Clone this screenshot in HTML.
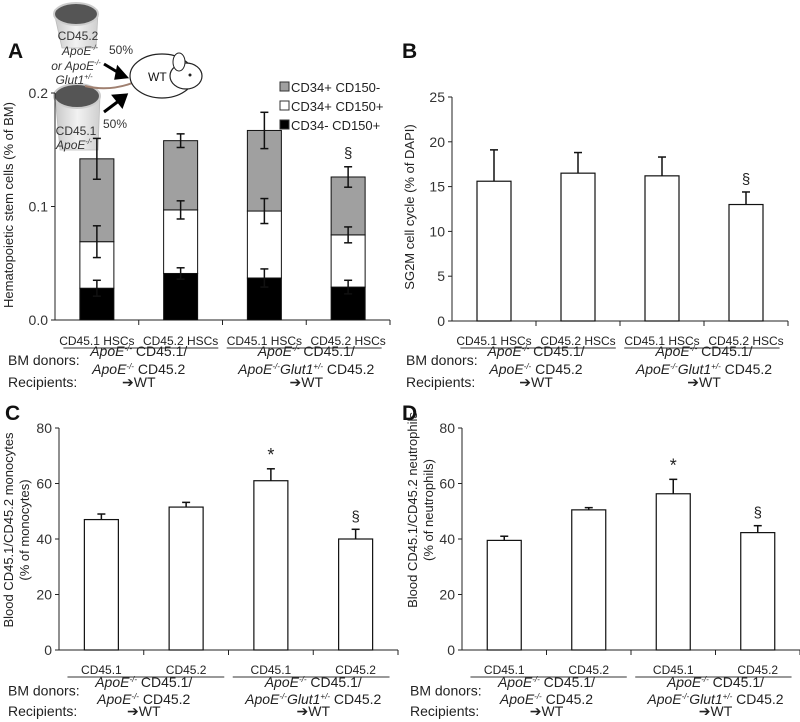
<!DOCTYPE html>
<html><head><meta charset="utf-8"><style>
html,body{margin:0;padding:0;background:#fff;}
svg{display:block;font-family:"Liberation Sans",Arial,sans-serif;}
</style></head><body>
<svg id="fig" width="800" height="722" viewBox="0 0 800 722" xmlns="http://www.w3.org/2000/svg">
<defs>
<linearGradient id="boneg" x1="0" x2="1"><stop offset="0" stop-color="#c8c8c8"/><stop offset="0.5" stop-color="#f2f2f2"/><stop offset="1" stop-color="#cfcfcf"/></linearGradient>
</defs>
<g id="illus">
  <path d="M54,12 L98,12 L96,48 L62,48 Z" fill="url(#boneg)" stroke="#bbb" stroke-width="0.8"/>
  <ellipse cx="76" cy="14" rx="22" ry="11" fill="#555" stroke="#ccc" stroke-width="2"/>
  <path d="M55,95 L100,95 L98,150 L60,150 Z" fill="url(#boneg)" stroke="#bbb" stroke-width="0.8"/>
  <ellipse cx="77" cy="96" rx="23" ry="12" fill="#555" stroke="#ccc" stroke-width="2"/>
  <path d="M85,86 C110,92 130,84 135,82" fill="none" stroke="#a08070" stroke-width="2"/>
  <ellipse cx="162" cy="76" rx="32" ry="22" fill="#fff" stroke="#222" stroke-width="1.2"/>
  <ellipse cx="186" cy="76" rx="16" ry="13" fill="#fff" stroke="#222" stroke-width="1.2"/>
  <ellipse cx="179" cy="62" rx="6" ry="9" fill="#fff" stroke="#222" stroke-width="1"/>
  <circle cx="190" cy="75" r="1.5" fill="#222"/>
  <text x="148" y="81" font-size="12" fill="#111">WT</text>
  <path d="M104,64 L124,76 M118,68 L126,77 L116,78 Z" stroke="#000" stroke-width="3" fill="#000"/>
  <path d="M104,112 L124,97 M114,96 L126,95 L122,106 Z" stroke="#000" stroke-width="3" fill="#000"/>
  <text x="78" y="40" font-size="12" text-anchor="middle" fill="#333">CD45.2</text>
  <text x="80" y="55" font-size="12" text-anchor="middle" font-style="italic" fill="#333">ApoE<tspan font-size="7" dy="-5">-/-</tspan></text>
  <text x="121" y="54" font-size="12" text-anchor="middle" fill="#333">50%</text>
  <text x="76" y="70" font-size="12" text-anchor="middle" font-style="italic" fill="#333">or ApoE<tspan font-size="7" dy="-5">-/-</tspan></text>
  <text x="74" y="84" font-size="12" text-anchor="middle" font-style="italic" fill="#333">Glut1<tspan font-size="7" dy="-5">+/-</tspan></text>
  <text x="115" y="128" font-size="12" text-anchor="middle" fill="#333">50%</text>
  <text x="76" y="135" font-size="12" text-anchor="middle" fill="#333">CD45.1</text>
  <text x="74" y="149" font-size="12" text-anchor="middle" font-style="italic" fill="#333">ApoE<tspan font-size="7" dy="-5">-/-</tspan></text>
</g>
</svg>
<script>
// Panel A data (stacked)
const aCats = ["CD45.1 HSCs","CD45.2 HSCs","CD45.1 HSCs","CD45.2 HSCs"];
const aBlack = [0.028,0.041,0.037,0.029];
const aWhite = [0.041,0.056,0.059,0.046];
const aGray = [0.073,0.061,0.071,0.051];
const aBlackErr = [0.007,0.005,0.008,0.006];
const aWhiteErr = [0.014,0.008,0.011,0.007];
const aGrayErr = [0.018,0.006,0.016,0.009];
const aTicks = ["0.0","0.1","0.2"];
const aTickVals = [0,0.1,0.2];
// Panel B
const bVals = [15.6,16.5,16.2,13.0];
const bErr = [3.5,2.3,2.1,1.4];
const bTickVals = [0,5,10,15,20,25];
// Panel C
const cVals = [47,51.5,61,40];
const cErr = [2,1.7,4.3,3.5];
// Panel D
const dVals = [39.5,50.5,56.3,42.3];
const dErr = [1.5,0.8,5.2,2.5];
const cdTickVals = [0,20,40,60,80];
const cdCats = ["CD45.1","CD45.2","CD45.1","CD45.2"];
const bMarks = ["","","","§"];
const cdMarks = ["","","*","§"];

const NS="http://www.w3.org/2000/svg";
const svg=document.getElementById('fig');
function mk(tag,attrs,parent){const e=document.createElementNS(NS,tag);for(const k in attrs)e.setAttribute(k,attrs[k]);(parent||svg).appendChild(e);return e;}
function txt(x,y,s,size,parent,anchor,extra){const t=mk('text',Object.assign({x:x,y:y,'font-size':size,'text-anchor':anchor||'middle',fill:'#111'},extra||{}),parent);t.textContent=s;return t;}

function panel(cfg){
  const g=mk('g',{});
  
  
  const y=v=>cfg.y0-(v-cfg.min)/(cfg.max-cfg.min)*(cfg.y0-cfg.yTop);
  const slot=(cfg.xEnd-cfg.ax)/4;
  const bx=i=>cfg.ax+slot*i+slot/2;
  // axes
  const ya=mk('line',{x1:cfg.ax,x2:cfg.ax,y1:cfg.yTop,y2:cfg.y0,stroke:'#222','stroke-width':1},g);
  
  
  const xa=mk('line',{x1:cfg.ax,x2:cfg.xEnd,y1:cfg.y0,y2:cfg.y0,stroke:'#222','stroke-width':1},g);
  
  
  cfg.ticks.forEach((v,i)=>{
    mk('line',{x1:cfg.ax-4,x2:cfg.ax,y1:y(v),y2:y(v),stroke:'#222'},g);
    const t=txt(cfg.ax-7,y(v)+5,cfg.tickLabels?cfg.tickLabels[i]:String(v),14,g,'end',{fill:'#333'});
    
    
  });
  for(let i=1;i<=4;i++) mk('line',{x1:cfg.ax+slot*i,x2:cfg.ax+slot*i,y1:cfg.y0,y2:cfg.y0+5,stroke:'#222'},g);
  const bw=34;
  cfg.bars(g,y,bx,bw);
  // y title
  cfg.ytitle.forEach((s,k)=>{
    const cx=cfg.ytx+k*16;
    const t=txt(cx,cfg.yty,s,13,g,'middle',{transform:`rotate(-90 ${cx} ${cfg.yty})`,fill:'#222'});
    
    
  });
  // letter
  const L=txt(cfg.lx,cfg.ly,cfg.letter,21,g,'start',{'font-weight':'bold'});
  
  
  // category labels
  const c=cfg.cats;
  const ly=cfg.catY;
  c.forEach((s,i)=>{
    const t=txt(bx(i),ly,s,12,g,'middle',{fill:'#222'});
    
    
  });
  const uy=ly+cfg.ulOff;
  mk('line',{x1:cfg.ax+slot*0.1,x2:cfg.ax+slot*1.95,y1:uy,y2:uy,stroke:'#333'},g);
  mk('line',{x1:cfg.ax+slot*2.05,x2:cfg.ax+slot*3.9,y1:uy,y2:uy,stroke:'#333'},g);
  const g1=bx(0)/2+bx(1)/2, g2=bx(2)/2+bx(3)/2;
  const by=cfg.donY;
  const bl=txt(cfg.lblX,by+(cfg.donGap/2)+4,'BM donors:',14,g,'start',{fill:'#222'});
  
  
  function apo(x,yy,rest,glut){
    const t=mk('text',{x:x,y:yy,'font-size':14,'text-anchor':'middle',fill:'#222'},g);
    t.innerHTML=`<tspan font-style="italic">ApoE</tspan><tspan font-size="8" dy="-5" font-style="italic">-/-</tspan>`+(glut?`<tspan dy="5" font-style="italic">Glut1</tspan><tspan font-size="8" dy="-5" font-style="italic">+/-</tspan><tspan dy="5"> CD45.2</tspan>`:`<tspan dy="5">${rest}</tspan>`);
    return t;
  }
  apo(g1,by+4,' CD45.1/');apo(g1,by+cfg.donGap+4,' CD45.2');
  apo(g2,by+4,' CD45.1/');apo(g2,by+cfg.donGap+4,'',true);
  const ry=by+cfg.donGap+cfg.recGap;
  const rl=txt(cfg.lblX,ry,'Recipients:',14,g,'start',{fill:'#222'});
  
  
  txt(g1,ry,'➔WT',14,g,'middle',{fill:'#222'});
  txt(g2,ry,'➔WT',14,g,'middle',{fill:'#222'});
}

function errbar(g,x,top,bot,both){
  mk('line',{x1:x,x2:x,y1:top,y2:bot,stroke:'#111','stroke-width':1.5},g);
  mk('line',{x1:x-4,x2:x+4,y1:top,y2:top,stroke:'#111','stroke-width':1.5},g);
  if(both) mk('line',{x1:x-4,x2:x+4,y1:bot,y2:bot,stroke:'#111','stroke-width':1.5},g);
}
function simpleBars(vals,errs,marks){
  return (g,y,bx,bw)=>{
    vals.forEach((v,i)=>{
      const r=mk('rect',{x:bx(i)-bw/2,y:y(v),width:bw,height:y(0)-y(v),fill:'#fff',stroke:'#111','stroke-width':1.2},g);
      
      
      errbar(g,bx(i),y(v+errs[i]),y(v),false);
      if(marks[i]){const t=txt(bx(i),y(v+errs[i])-8,marks[i],marks[i]=='*'?18:15,g,'middle',{fill:'#222'});
        
        }
    });
  };
}

panel({name:'panel-a',letter:'A',lx:8,ly:58,ax:55,xEnd:390,y0:320,yTop:93,min:0,max:0.2,ticks:aTickVals,tickLabels:aTicks,
  ytitle:['Hematopoietic stem cells (% of BM)'],ytx:13,yty:205,cats:aCats,catY:345,ulOff:3,donY:352,donGap:18,recGap:17,lblX:8,
  bars:(g,y,bx,bw)=>{
    aCats.forEach((c,i)=>{
      const b=aBlack[i],w=b+aWhite[i],t=w+aGray[i];
      const r1=mk('rect',{x:bx(i)-bw/2,y:y(b),width:bw,height:y(0)-y(b),fill:'#000',stroke:'#111'},g);
      
      
      const r2=mk('rect',{x:bx(i)-bw/2,y:y(w),width:bw,height:y(b)-y(w),fill:'#fff',stroke:'#111'},g);
      
      
      const r3=mk('rect',{x:bx(i)-bw/2,y:y(t),width:bw,height:y(w)-y(t),fill:'#a0a0a0',stroke:'#111'},g);
      
      
      errbar(g,bx(i),y(b+aBlackErr[i]),y(b-aBlackErr[i]),true);
      errbar(g,bx(i),y(w+aWhiteErr[i]),y(w-aWhiteErr[i]),true);
      errbar(g,bx(i),y(t+aGrayErr[i]),y(t-aGrayErr[i]),true);
    });
    const mt=txt(bx(3),y(aBlack[3]+aWhite[3]+aGray[3]+aGrayErr[3])-9,'§',15,g,'middle',{fill:'#222'});
    
    
    const leg=[['#a0a0a0','CD34+ CD150-'],['#fff','CD34+ CD150+'],['#000','CD34- CD150+']];
    leg.forEach((l,k)=>{
      const ly=88+k*19;
      mk('rect',{x:280,y:ly-6,width:9,height:9,fill:l[0],stroke:'#333'},g);
      const t=txt(291,ly+4,l[1],13,g,'start',{fill:'#222'});
      
      
    });
  }});

panel({name:'panel-b',letter:'B',lx:402,ly:58,ax:452,xEnd:788,y0:321,yTop:97,min:0,max:25,ticks:bTickVals,
  ytitle:['SG2M cell cycle (% of DAPI)'],ytx:414,yty:207,cats:aCats,catY:345,ulOff:3,donY:352,donGap:18,recGap:17,lblX:406,
  bars:simpleBars(bVals,bErr,bMarks)});

panel({name:'panel-c',letter:'C',lx:5,ly:420,ax:59,xEnd:398,y0:650,yTop:428,min:0,max:80,ticks:cdTickVals,
  ytitle:['Blood CD45.1/CD45.2 monocytes','(% of monocytes)'],ytx:13,yty:530,cats:cdCats,catY:674,ulOff:3,donY:683,donGap:17,recGap:16,lblX:8,
  bars:simpleBars(cVals,cErr,cdMarks)});

panel({name:'panel-d',letter:'D',lx:402,ly:420,ax:462,xEnd:800,y0:650,yTop:428,min:0,max:80,ticks:cdTickVals,
  ytitle:['Blood CD45.1/CD45.2 neutrophils','(% of neutrophils)'],ytx:417,yty:510,cats:cdCats,catY:674,ulOff:3,donY:683,donGap:17,recGap:16,lblX:410,
  bars:simpleBars(dVals,dErr,cdMarks)});
</script>
</body></html>
